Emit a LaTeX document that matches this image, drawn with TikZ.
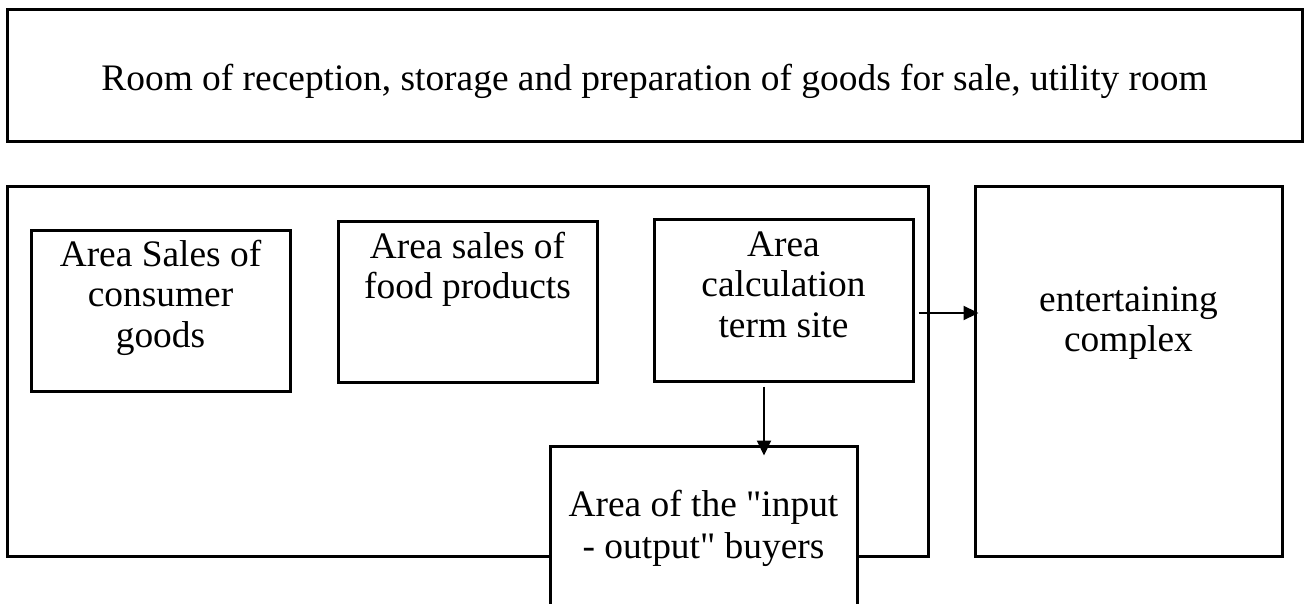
\documentclass[tikz,border=0pt]{standalone}
\usepackage{fontspec}
\setmainfont{Liberation Serif}
\usetikzlibrary{arrows.meta,positioning}
\begin{document}
\begin{tikzpicture}[x=1pt,y=-1pt,
    box/.style={draw,line width=3pt,inner sep=0pt,fill=white},
    lbl/.style={font=\fontsize{37.4pt}{40.5pt}\selectfont,align=center,inner sep=0pt},
    arr/.style={-{Triangle[length=15pt,width=14pt]},line width=2.2pt}]
    \useasboundingbox (0,0) rectangle (1304,604);
    % rooms of the shop
    \node[box,lbl,minimum width=1295pt,minimum height=132pt,text height=30pt,text depth=0pt]
        (store) at (654.5,76)
        {Room of reception, storage and preparation of goods for sale, utility room};
    \node[box,minimum width=921pt,minimum height=369pt] (hall) at (467.5,371.5) {};
    \node[box,minimum width=259pt,minimum height=160pt] (goods) at (160.5,311) {};
    \node[lbl,below=10pt of goods.north] {Area Sales of\\consumer\\goods};
    \node[box,minimum width=259pt,minimum height=160pt] (food) at (467.5,302) {};
    \node[lbl,below=11pt of food.north] {Area sales of\\food products};
    \node[box,minimum width=259pt,minimum height=161pt] (calc) at (783.5,300.5) {};
    \node[lbl,below=13pt of calc.north] {Area\\calculation\\term site};
    \node[box,minimum width=307pt,minimum height=369pt] (fun) at (1128.5,371.5) {};
    \node[lbl,below=101pt of fun.north] {entertaining\\complex};
    \node[box,minimum width=307pt,minimum height=200pt] (exit) at (703.5,546) {};
    \node[lbl,below=45pt of exit.north,font=\fontsize{37.4pt}{42pt}\selectfont]
        {Area of the \textquotedbl input\\- output\textquotedbl{} buyers};
    % flows
    \draw[arr] ([shift={(4,12.5)}]calc.east) -- ([shift={(5,12.5)}]calc.east -| fun.west);
    \draw[arr] ([shift={(-19.5,4)}]calc.south) -- ([shift={(-19.5,11)}]calc.south |- exit.north);
\end{tikzpicture}
\end{document}
